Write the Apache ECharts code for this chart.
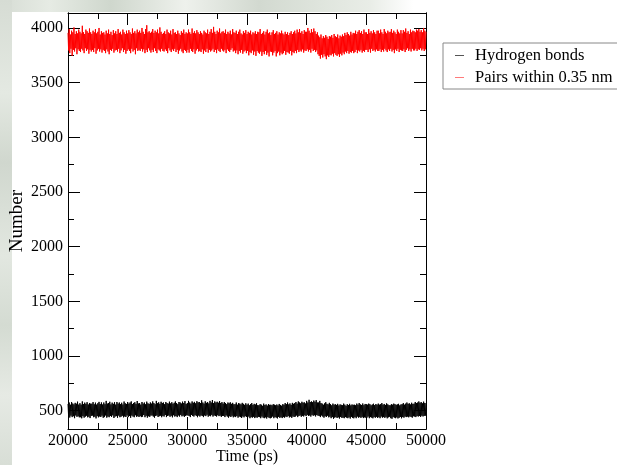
<!DOCTYPE html>
<html>
<head>
<meta charset="utf-8">
<title>Hydrogen bonds vs time</title>
<script src="https://cdn.jsdelivr.net/npm/echarts@6/dist/echarts.min.js"></script>
<style>
  html, body { margin: 0; padding: 0; background: #fff; }
  #chart { width: 617px; height: 465px; }
</style>
</head>
<body>
<div id="chart"></div>
<script>
// Sampling of the trajectory (ps)
const timeStart = 20000;
const timeStep = 50;

// Number of hydrogen bonds, one value per 50 ps (20 values per ns)
const hydrogenBonds = [
  562,448,575,438,555,455,580,442,566,450,558,432,572,457,564,445,583,449,556,440,
  569,441,556,431,585,451,560,437,574,446,563,455,578,440,557,446,571,433,565,453,
  564,456,579,441,559,446,574,430,556,451,568,440,581,448,561,443,576,455,557,436,
  575,442,560,457,590,437,565,447,570,441,582,452,558,444,574,458,563,434,578,447,
  556,451,580,436,565,456,575,441,560,446,573,454,557,440,584,448,568,443,562,457,
  580,442,565,452,575,436,585,456,560,447,571,441,578,459,563,445,589,450,566,443,
  570,451,556,442,580,446,565,461,575,441,559,454,583,437,568,450,562,444,576,456,
  565,456,585,447,570,437,560,452,590,457,568,443,577,450,563,455,582,441,571,453,
  575,447,560,461,580,442,570,452,565,457,583,445,567,454,578,440,564,459,573,447,
  585,452,570,442,560,457,580,447,575,462,566,449,583,455,571,444,588,453,562,458,
  570,457,590,452,575,442,565,462,585,452,573,447,581,460,568,453,587,441,576,456,
  580,447,570,457,595,452,575,442,565,457,586,451,572,463,579,446,567,455,590,450,
  575,462,598,447,570,457,585,452,575,447,582,459,573,451,588,455,571,444,579,453,
  565,452,580,442,570,457,560,447,575,437,568,450,577,443,563,454,572,440,559,448,
  560,442,575,452,555,437,570,447,565,442,558,434,572,448,563,440,554,451,568,443,
  555,437,565,447,550,432,560,442,570,437,553,445,563,433,557,441,568,436,551,444,
  550,442,560,432,555,447,545,437,565,432,552,440,558,429,547,443,561,435,554,431,
  555,437,550,447,560,432,555,442,550,437,557,430,548,444,562,435,553,441,546,433,
  560,442,555,437,570,447,560,442,575,452,558,439,567,446,554,435,572,448,563,443,
  570,447,580,457,565,442,585,452,575,457,568,445,582,454,573,448,577,459,566,451,
  590,462,575,452,600,457,580,447,585,462,578,454,593,459,582,448,597,461,575,455,
  575,452,590,442,570,457,565,447,555,437,567,450,578,443,563,455,558,440,572,446,
  560,432,550,442,565,427,555,437,560,442,553,434,563,440,548,429,558,443,554,435,
  550,437,565,432,555,442,545,437,560,432,552,440,563,429,549,444,557,435,554,431,
  555,442,550,432,565,447,555,437,570,442,558,435,553,444,566,433,551,440,562,437,
  560,437,555,447,565,432,560,442,550,437,557,431,564,443,552,436,561,445,555,434,
  565,442,555,432,560,447,570,437,555,442,562,435,553,444,567,431,558,440,551,445,
  550,432,560,427,555,442,565,437,560,432,554,440,558,430,563,436,549,443,557,431,
  560,442,570,437,555,447,565,442,575,447,563,440,568,448,557,443,573,437,562,450,
  565,447,580,442,570,452,575,447,585,452,573,444,579,455,568,448,583,453,571,455,
  570
];

// Number of donor-acceptor pairs within 0.35 nm, one value per 50 ps
const pairsWithin = [
  3955,3795,3990,3770,3940,3810,3975,3745,3960,3800,4005,3785,3945,3815,3970,3760,3950,3805,3985,3790,
  3965,3780,3950,3810,4020,3795,3960,3770,3945,3815,3985,3790,3970,3805,3955,3765,3995,3800,3960,3785,
  3945,3800,3975,3780,3960,3815,3990,3765,3950,3795,3965,3810,4000,3785,3940,3805,3970,3775,3955,3800,
  3960,3790,3940,3770,3975,3805,3950,3785,3985,3760,3945,3800,3965,3790,3935,3810,3980,3775,3950,3795,
  3970,3800,3945,3785,3990,3810,3955,3770,3965,3795,3940,3815,3985,3780,3960,3800,3945,3765,3975,3790,
  3950,3805,3980,3790,3960,3770,3945,3810,3995,3785,3955,3800,3970,3760,3950,3815,3985,3790,3960,3800,
  3975,3790,3955,3810,4000,3785,3965,3805,3945,3770,3990,3800,4025,3780,3960,3815,3970,3795,3955,3775,
  3965,3800,3990,3780,3955,3815,3975,3790,3960,3770,3985,3805,3950,3795,4005,3785,3965,3810,3945,3790,
  3955,3785,3970,3805,3945,3790,3985,3770,3960,3815,3950,3795,3975,3780,3940,3805,3990,3790,3955,3810,
  3960,3780,3945,3800,3975,3765,3950,3795,3935,3810,3970,3785,3955,3770,3985,3800,3945,3790,3960,3775,
  3950,3800,3985,3775,3960,3810,3945,3790,3995,3780,3955,3805,3970,3765,3950,3795,3980,3810,3960,3785,
  3945,3790,3970,3780,3955,3805,3940,3765,3975,3795,3960,3780,3950,3810,3985,3775,3945,3800,3965,3785,
  3990,3795,3955,3810,4010,3780,3965,3800,3945,3770,3975,3805,3960,3790,3995,3780,3950,3810,3965,3795,
  3970,3785,3955,3800,3985,3770,3945,3805,3965,3790,3950,3780,3975,3800,3940,3815,3990,3785,3960,3795,
  3955,3770,3975,3795,3945,3760,3965,3790,3985,3775,3950,3800,3940,3765,3970,3785,3955,3795,3980,3770,
  3945,3790,3965,3750,3955,3780,3975,3770,3940,3795,3960,3755,3950,3785,3970,3745,3945,3790,3965,3775,
  3960,3765,3990,3785,3945,3745,3955,3780,3970,3760,3940,3790,3965,3755,3985,3775,3950,3740,3960,3785,
  3935,3780,3960,3750,3980,3775,3945,3790,3955,3740,3970,3770,3940,3785,3960,3750,3950,3775,3975,3760,
  3950,3770,3940,3790,3965,3755,3945,3780,3960,3775,3935,3765,3955,3790,3970,3750,3945,3780,3960,3770,
  3975,3790,3950,3770,3985,3800,3960,3780,3990,3795,3955,3785,3970,3805,3945,3775,3980,3795,3965,3790,
  3965,3805,4000,3785,3975,3800,3955,3775,3990,3810,3960,3790,3995,3800,3970,3780,3945,3795,3960,3760,
  3930,3745,3915,3720,3940,3755,3905,3730,3925,3760,3910,3740,3935,3715,3920,3750,3900,3735,3925,3755,
  3920,3750,3935,3765,3910,3740,3945,3770,3925,3755,3915,3745,3940,3760,3905,3735,3930,3765,3920,3750,
  3940,3775,3925,3760,3955,3785,3935,3770,3960,3790,3945,3765,3930,3780,3965,3775,3940,3790,3955,3770,
  3950,3780,3975,3800,3945,3770,3965,3795,3980,3785,3955,3800,3970,3775,3945,3790,3985,3780,3960,3800,
  3960,3800,3945,3780,3990,3805,3955,3775,3970,3810,3950,3790,3980,3800,3960,3785,3945,3805,3975,3790,
  3975,3790,3950,3805,3985,3780,3960,3800,3945,3785,3990,3810,3965,3795,3950,3780,3975,3805,3960,3790,
  3965,3810,3990,3785,3955,3800,3975,3770,3960,3805,3945,3790,3985,3810,3965,3780,3950,3800,3980,3795,
  3950,3790,3980,3805,3965,3780,3995,3800,3955,3815,3970,3790,3945,3805,3985,3785,3960,3810,3975,3795,
  3970,3795,3960,3810,3985,3790,3975,3805,3990,3800,3965,3815,3980,3795,3960,3810,4000,3790,3975,3805,
  3965
];

// Axis ticks
const yMajorTicks = [500, 1000, 1500, 2000, 2500, 3000, 3500, 4000];
const yMinorTicks = [750, 1250, 1750, 2250, 2750, 3250, 3750];

const serif = "'Liberation Serif', 'Times New Roman', serif";

const pairsOf = (vals) => vals.map((v, i) => [timeStart + i * timeStep, v]);
const plainNumber = (v) => String(v);

const frameLine = { show: true, onZero: false, lineStyle: { color: '#000', width: 1 } };
const majorTick = (extra) => Object.assign({ show: true, inside: true, length: 12,
  lineStyle: { color: '#000', width: 1 } }, extra || {});

function xAxisCfg(pos, withLabels) {
  return {
    type: 'value', position: pos, min: 20000, max: 50000, interval: 5000,
    axisLine: frameLine,
    axisTick: majorTick(),
    minorTick: { show: true, splitNumber: 2, length: 6, lineStyle: { color: '#000', width: 1 } },
    splitLine: { show: false },
    axisLabel: withLabels
      ? { show: true, margin: 4, color: '#000', fontFamily: serif, fontSize: 16, formatter: plainNumber }
      : { show: false },
    name: withLabels ? 'Time (ps)' : '',
    nameLocation: 'middle', nameGap: 20, nameMoveOverlap: false,
    nameTextStyle: { color: '#000', fontFamily: serif, fontSize: 16 }
  };
}

function yAxisCfg(pos, ticks, len, withLabels) {
  return {
    type: 'value', position: pos, min: 333, max: 4137,
    axisLine: frameLine,
    axisTick: majorTick({ length: len, customValues: ticks }),
    splitLine: { show: false },
    axisLabel: withLabels
      ? { show: true, margin: 5, color: '#000', fontFamily: serif, fontSize: 16,
          customValues: ticks, formatter: plainNumber }
      : { show: false },
    name: withLabels ? 'Number' : '',
    nameLocation: 'middle', nameGap: 41, nameMoveOverlap: false,
    nameTextStyle: { color: '#000', fontFamily: serif, fontSize: 19 }
  };
}

const chart = echarts.init(document.getElementById('chart'), null, { renderer: 'canvas' });

chart.setOption({
  backgroundColor: '#fff',
  animation: false,
  graphic: [
    { type: 'rect', silent: true, z: -10, shape: { x: 0, y: 0, width: 617, height: 12 },
      style: { fill: new echarts.graphic.LinearGradient(0, 0, 1, 0, [
        { offset: 0.00, color: '#d6dcd4' }, { offset: 0.08, color: '#e6ebe4' },
        { offset: 0.18, color: '#cfd7cd' }, { offset: 0.30, color: '#eef1ec' },
        { offset: 0.42, color: '#d2d9d0' }, { offset: 0.52, color: '#dfe5dd' },
        { offset: 0.60, color: '#e9ede7' }, { offset: 0.67, color: '#ffffff' },
        { offset: 1.00, color: '#ffffff' }]) } },
    { type: 'rect', silent: true, z: -10, shape: { x: 0, y: 0, width: 12, height: 465 },
      style: { fill: new echarts.graphic.LinearGradient(0, 0, 0, 1, [
        { offset: 0.00, color: '#d6dcd4' }, { offset: 0.20, color: '#e4e9e2' },
        { offset: 0.35, color: '#d0d7ce' }, { offset: 0.55, color: '#e2e7e0' },
        { offset: 0.70, color: '#d4dbd2' }, { offset: 0.85, color: '#e6eae4' },
        { offset: 1.00, color: '#d8ded6' }]) } }
  ],
  grid: { left: 68, right: 191, top: 13, bottom: 36, containLabel: false, outerBoundsMode: 'none' },
  legend: {
    orient: 'vertical', left: 443, top: 43,
    padding: [4, 40, 3, 12], itemGap: 5,
    itemWidth: 9, itemHeight: 1,
    borderColor: '#888', borderWidth: 1, backgroundColor: '#fff',
    textStyle: { color: '#000', fontFamily: serif, fontSize: 16.5, lineHeight: 16, padding: [0, 0, 0, 6] },
    data: [
      { name: 'Hydrogen bonds', icon: 'rect', itemStyle: { color: '#555' } },
      { name: 'Pairs within 0.35 nm', icon: 'rect', itemStyle: { color: '#ff7a7a' } }
    ]
  },
  xAxis: [xAxisCfg('bottom', true), xAxisCfg('top', false)],
  yAxis: [
    yAxisCfg('left', yMajorTicks, 12, true),
    yAxisCfg('right', yMajorTicks, 12, false),
    yAxisCfg('left', yMinorTicks, 6, false),
    yAxisCfg('right', yMinorTicks, 6, false)
  ],
  series: [
    { name: 'Hydrogen bonds', type: 'line', xAxisIndex: 0, yAxisIndex: 0,
      data: pairsOf(hydrogenBonds), showSymbol: false, symbol: 'none',
      sampling: null, lineStyle: { color: '#000', width: 1 }, itemStyle: { color: '#000' } },
    { name: 'Pairs within 0.35 nm', type: 'line', xAxisIndex: 0, yAxisIndex: 0,
      data: pairsOf(pairsWithin), showSymbol: false, symbol: 'none',
      sampling: null, lineStyle: { color: '#ff0000', width: 1 }, itemStyle: { color: '#ff0000' } }
  ]
});
</script>
</body>
</html>
